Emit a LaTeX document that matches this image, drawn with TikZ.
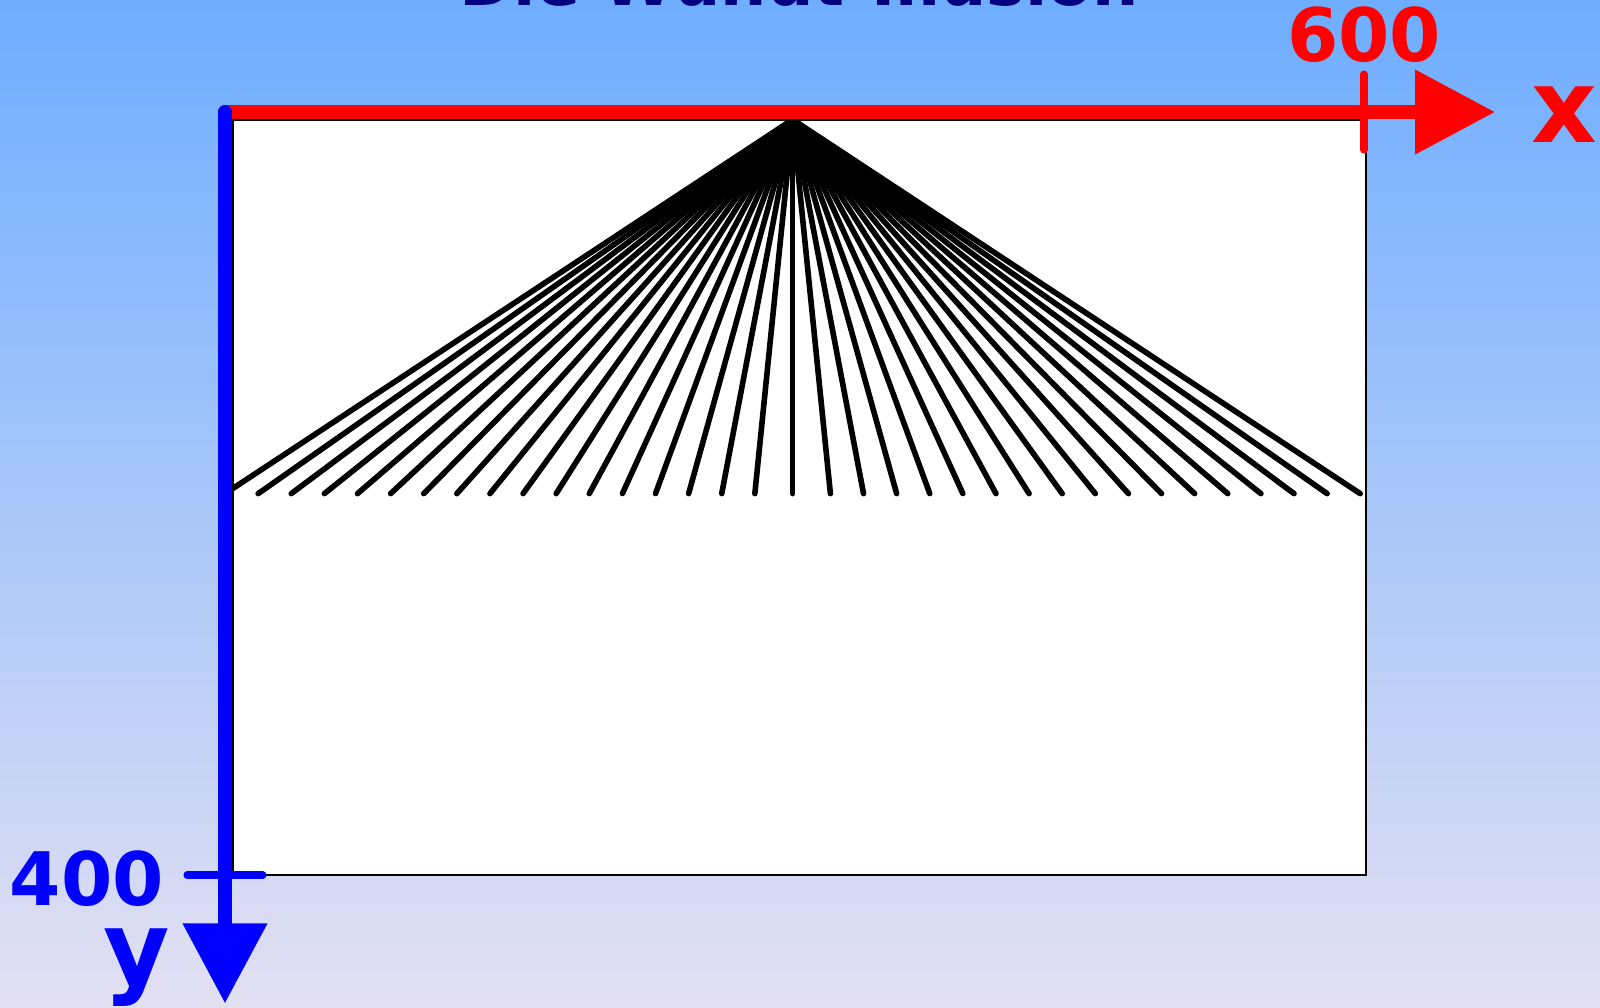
\documentclass[tikz,border=0pt]{standalone}
\usepackage{fontspec}
\setmainfont{DejaVu Sans}
\usetikzlibrary{arrows.meta}
\definecolor{bgTop}{HTML}{6EADFF}
\definecolor{bgBot}{HTML}{E3E0F2}
\definecolor{titleCol}{HTML}{000080}
\definecolor{xCol}{HTML}{FF0000}
\definecolor{yCol}{HTML}{0000FF}

\begin{document}
\begin{tikzpicture}[
  x=0.1889mm, y=-0.1889mm,
  line cap=round,
  every node/.style={font=\bfseries, inner sep=0pt},
  axis/.style={line width=1.4mm},
  tick/.style={line width=0.75mm},
  ray/.style={black, line width=0.56mm},
  numlbl/.style={font=\bfseries\fontsize{21pt}{25pt}\selectfont},
  axlbl/.style={font=\bfseries\fontsize{29pt}{34pt}\selectfont}
]
  % Background
  \useasboundingbox (-123.1,-63.3) rectangle (723.9,470.3);
  \shade[top color=bgTop, bottom color=bgBot]
    (-123.1,-63.3) rectangle (723.9,470.3);

  % Title (cut off at the top)
  \node[font=\bfseries\fontsize{18.5pt}{22pt}\selectfont, text=titleCol,
    anchor=base] (title) at (300,-60.5) {Die Wundt-Illusion};

  % Canvas
  \draw[fill=white, line width=0.2mm] (0,0) rectangle (600,400);

  % Rays from the apex
  \coordinate (apex) at (296.5,0);
  \draw[ray] (apex) -- ++(0,198);
  \foreach \k in {1,...,17} {
    \pgfmathsetmacro\dx{20+17.53*(\k-1)}
    \draw[ray] (apex) -- ++(\dx,198);
    \draw[ray] (apex) -- ++(-\dx,198);
  }

  % x axis
  \coordinate (origin) at (-4,-4);
  \coordinate (xEnd) at (668.4,-4);
  \draw[axis, xCol, -{Triangle[length=8mm, width=8.1mm]}] (origin) -- (xEnd);
  \draw[tick, xCol] (599,-24) -- (599,16);
  \node[numlbl, text=xCol, anchor=base] (xTick) at (599,-31) {600};
  \node[axlbl, text=xCol, anchor=base west] (xLabel) at (687,12) {x};

  % y axis
  \coordinate (yEnd) at (-4,467.9);
  \draw[axis, yCol, -{Triangle[length=8mm, width=8.1mm]}] (origin) -- (yEnd);
  \draw[tick, yCol] (-24,400) -- (16,400);
  \node[numlbl, text=yCol, anchor=base east] (yTick) at (-36,416) {400};
  \node[axlbl, text=yCol, anchor=base east] (yLabel) at (-33,458) {y};
\end{tikzpicture}
\end{document}
